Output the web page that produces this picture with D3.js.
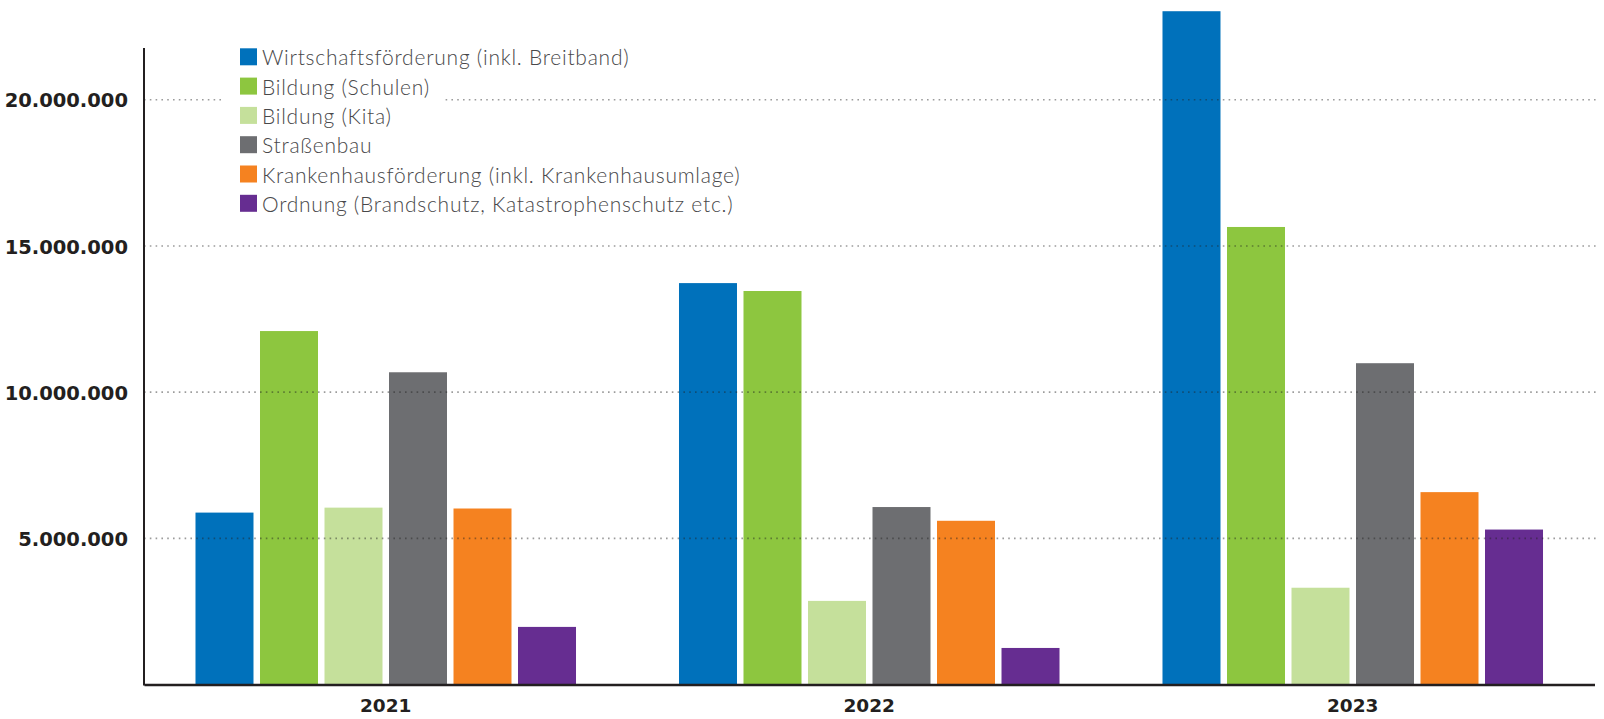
<!DOCTYPE html>
<html>
<head>
<meta charset="utf-8">
<script src="https://cdn.jsdelivr.net/npm/d3@7"></script>
<style>
  body { margin: 0; background: #fff; }
  svg { display: block; }
</style>
</head>
<body>
<div id="chart"></div>
<script>
// DATA
const years = ["2021", "2022", "2023"];
const series = [
    "Wirtschaftsförderung (inkl. Breitband)",
    "Bildung (Schulen)",
    "Bildung (Kita)",
    "Straßenbau",
    "Krankenhausförderung (inkl. Krankenhausumlage)",
    "Ordnung (Brandschutz, Katastrophenschutz etc.)"
];
const colors = ["#0071bb", "#8dc63f", "#c5e09b", "#6d6e71", "#f58220", "#662d91"];
// values per series, in order of years
const wirtschaft = [5880000, 13730000, 23030000];
const schulen = [12090000, 13460000, 15650000];
const kita = [6050000, 2860000, 3310000];
const strassenbau = [10680000, 6070000, 10990000];
const krankenhaus = [6020000, 5600000, 6580000];
const ordnung = [1970000, 1250000, 5300000];
const yTicks = [5000000, 10000000, 15000000, 20000000];

const valuesBySeries = [wirtschaft, schulen, kita, strassenbau, krankenhaus, ordnung];

// 1: SIZE
const W = 1604, H = 719;
const plot = { left: 144, right: 1594.5, top: 48, bottom: 684.5 };

const svg = d3.select("#chart")
    .append("svg")
    .attr("width", W)
    .attr("height", H);

// 2: SCALES
const x0 = d3.scaleBand()
    .domain(years)
    .range([plot.left, plot.right])
    .paddingInner(0.213)
    .paddingOuter(0.1065);

const x1 = d3.scaleBand()
    .domain(series)
    .range([0, x0.bandwidth()])
    .paddingInner(0.1008)
    .paddingOuter(0);

const y = d3.scaleLinear()
    .domain([0, 20000000])
    .range([plot.bottom, 99.8]);

const color = d3.scaleOrdinal().domain(series).range(colors);

const fmt = d3.formatLocale({ decimal: ",", thousands: ".", grouping: [3], currency: ["", "€"] }).format(",d");

// 3: BARS
const rows = years.map((yr, i) => ({
    year: yr,
    vals: series.map((s, j) => ({ key: s, value: valuesBySeries[j][i] }))
}));

const groups = svg.selectAll(".year")
    .data(rows)
    .enter()
    .append("g")
    .attr("class", "year")
    .attr("transform", d => `translate(${x0(d.year)},0)`);

groups.selectAll("rect")
    .data(d => d.vals)
    .enter()
    .append("rect")
    .attr("x", d => x1(d.key))
    .attr("y", d => y(d.value))
    .attr("width", x1.bandwidth())
    .attr("height", d => y(0) - y(d.value))
    .attr("fill", d => color(d.key));

// 4: GRIDLINES (dotted, drawn over the bars)
svg.append("g")
    .selectAll("line")
    .data(yTicks)
    .enter()
    .append("line")
    .attr("x1", plot.left)
    .attr("x2", 1598)
    .attr("y1", d => y(d))
    .attr("y2", d => y(d))
    .attr("stroke", "#222")
    .attr("stroke-opacity", 0.45)
    .attr("stroke-width", 1.6)
    .attr("stroke-dasharray", "1.6 4.2");

// 5: AXES
const yAxis = svg.append("g")
    .attr("transform", `translate(${plot.left},0)`)
    .call(d3.axisLeft(y).tickValues(yTicks).tickFormat(fmt).tickSize(0).tickPadding(16));
yAxis.select(".domain").remove();
yAxis.selectAll("text")
    .attr("dy", "0.36em")
    .style("font-family", "'DejaVu Sans', sans-serif")
    .style("font-weight", "bold")
    .style("font-size", "19.5px")
    .style("fill", "#231f20");

svg.append("line")
    .attr("x1", plot.left)
    .attr("x2", plot.left)
    .attr("y1", plot.top)
    .attr("y2", plot.bottom + 1)
    .attr("stroke", "#231f20")
    .attr("stroke-width", 2);

const xAxis = svg.append("g")
    .attr("transform", `translate(0,${plot.bottom})`)
    .call(d3.axisBottom(x0).tickSize(0).tickPadding(14));
xAxis.select(".domain")
    .attr("stroke", "#231f20")
    .attr("stroke-width", 2.5);
xAxis.selectAll("text")
    .attr("dy", "0.71em")
    .style("font-family", "'DejaVu Sans', sans-serif")
    .style("font-weight", "bold")
    .style("font-size", "18.5px")
    .style("fill", "#231f20");

// 6: LEGEND
const legend = svg.selectAll(".legend")
    .data(series)
    .enter()
    .append("g")
    .attr("class", "legend")
    .attr("transform", (d, i) => `translate(240, ${48.3 + i * 29.3})`);

const bg = legend.append("rect")
    .attr("x", -15)
    .attr("y", -4)
    .attr("height", 28)
    .attr("fill", "#fff");

legend.append("rect")
    .attr("width", 17)
    .attr("height", 17)
    .attr("fill", d => color(d));

legend.append("text")
    .attr("x", 22)
    .attr("y", 17)
    .style("font-family", "Lato, 'Open Sans', sans-serif")
    .style("font-weight", 300)
    .style("font-size", "21px")
    .style("letter-spacing", "0.75px")
    .style("fill", "#48484a")
    .text(d => d);

legend.each(function () {
    const g = d3.select(this);
    const w = g.select("text").node().getComputedTextLength();
    g.select("rect").attr("width", 22 + w + 28);
});
</script>
</body>
</html>
